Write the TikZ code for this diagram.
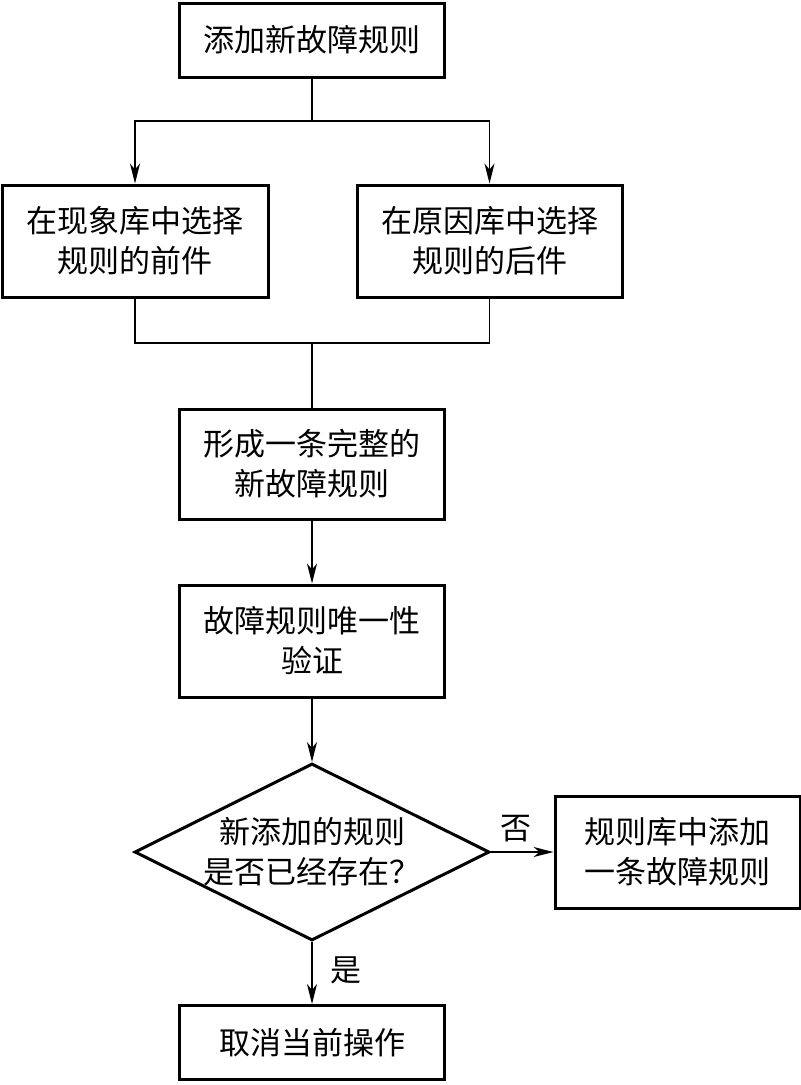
\documentclass[tikz,border=0pt]{standalone}
\usepackage{fontspec}
\setmainfont{Noto Sans CJK SC}
\usetikzlibrary{shapes.geometric,arrows.meta}
\begin{document}
\begin{tikzpicture}[x=1pt,y=-1pt,
  txt/.style={align=center,font=\fontsize{31}{40}\selectfont},
  box/.style={draw,line width=3pt,inner sep=0pt,txt},
  dia/.style={draw,line width=3pt,shape=diamond,inner sep=0pt},
  conn/.style={line width=1.4pt},
  arr/.style={line width=1.4pt,-{Stealth[length=20pt,width=10pt,inset=6pt]}},
  lbl/.style={font=\fontsize{31}{32}\selectfont}]
\useasboundingbox (0,0) rectangle (801,1085);
\node[box,minimum width=265pt,minimum height=74pt] (top) at (312,40) {添加新故障规则};
\node[box,minimum width=266pt,minimum height=112pt] (left) at (135,241) {在现象库中选择\\规则的前件};
\node[box,minimum width=265pt,minimum height=112pt] (right) at (489.5,241) {在原因库中选择\\规则的后件};
\node[box,minimum width=265pt,minimum height=110pt] (form) at (312,464) {形成一条完整的\\新故障规则};
\node[box,minimum width=265pt,minimum height=112pt] (verify) at (312,641) {故障规则唯一性\\验证};
\node[dia,minimum width=355pt,minimum height=177pt] (dec) at (312,852) {};
\node[txt] (dect) at (dec.center) {新添加的规则\\是否已经存在？};
\node[box,minimum width=245pt,minimum height=112pt] (add) at (677.5,852) {规则库中添加\\一条故障规则};
\node[box,minimum width=265pt,minimum height=74pt] (cancel) at (312,1042.5) {取消当前操作};
\coordinate (split) at (312,121);
\coordinate (join) at (312,343);
\draw[conn] (top.south) -- (split);
\draw[arr] (split) -| (left.north);
\draw[arr] (split) -| (right.north);
\draw[conn] (left.south) |- (join);
\draw[conn] (right.south) |- (join);
\draw[conn] (join) -- (form.north);
\draw[arr] (form.south) -- (verify.north);
\draw[arr] (verify.south) -- (dec.north);
\draw[arr] (dec.east) -- node[lbl,above,pos=0.4,yshift=6pt] (no) {否} (add.west);
\draw[arr] (dec.south) -- node[lbl,right,pos=0.45,xshift=14pt] (yes) {是} (cancel.north);
\end{tikzpicture}
\end{document}
